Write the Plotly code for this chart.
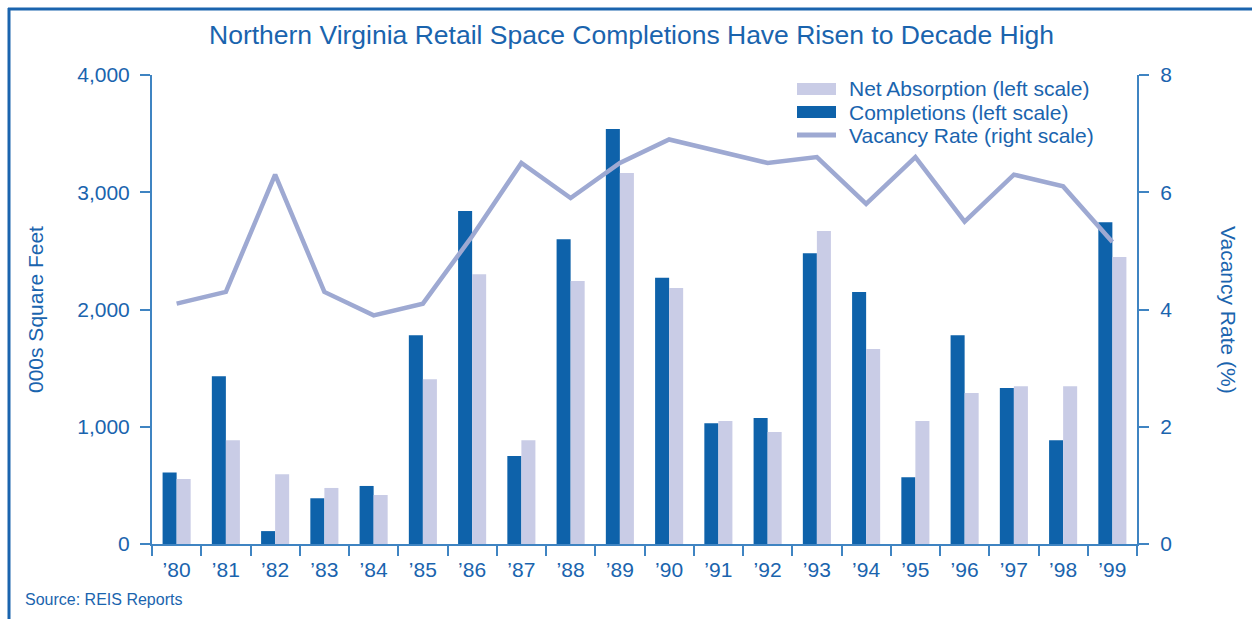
import plotly.graph_objects as go

years = ["’80", "’81", "’82", "’83", "’84", "’85", "’86", "’87", "’88", "’89",
         "’90", "’91", "’92", "’93", "’94", "’95", "’96", "’97", "’98", "’99"]
completions = [610, 1430, 110, 390, 495, 1780, 2840, 750, 2600, 3540,
               2270, 1030, 1075, 2480, 2150, 570, 1780, 1330, 885, 2745]
absorption = [555, 885, 595, 478, 418, 1405, 2300, 885, 2243, 3165,
              2183, 1048, 955, 2670, 1663, 1048, 1288, 1345, 1345, 2448]
vacancy = [4.1, 4.3, 6.3, 4.3, 3.9, 4.1, 5.25, 6.5, 5.9, 6.5,
           6.9, 6.7, 6.5, 6.6, 5.8, 6.6, 5.5, 6.3, 6.1, 5.15]
left_ticks = [0, 1000, 2000, 3000, 4000]
right_ticks = [0, 2, 4, 6, 8]

TXT = "#1a64ae"
AX = "#3f84c2"
C_COMP = "#0e62aa"
C_ABS = "#c9cce6"
C_VAC = "#9ea9d2"
FONT = "Liberation Sans, Arial, sans-serif"

fig = go.Figure()
fig.add_trace(go.Bar(x=years, y=completions, name="Completions (left scale)",
                     marker=dict(color=C_COMP, line=dict(width=0))))
fig.add_trace(go.Bar(x=years, y=absorption, name="Net Absorption (left scale)",
                     marker=dict(color=C_ABS, line=dict(width=0))))
fig.add_trace(go.Scatter(x=years, y=vacancy, name="Vacancy Rate (right scale)",
                         mode="lines", line=dict(color=C_VAC, width=4.5),
                         yaxis="y2"))

L, R, T, B = 152, 1137, 75, 544
W, H = R - L, B - T

def px(x):
    return (x - L) / W

def py(y):
    return (B - y) / H

legend_items = [
    ("Net Absorption (left scale)", "rect", C_ABS, 89),
    ("Completions (left scale)", "rect", C_COMP, 112),
    ("Vacancy Rate (right scale)", "line", C_VAC, 135),
]
shapes = [
    dict(type="line", xref="paper", yref="paper", x0=px(8), x1=px(1260),
         y0=py(9), y1=py(9), line=dict(color=TXT, width=3)),
    dict(type="line", xref="paper", yref="paper", x0=px(9), x1=px(9),
         y0=py(8), y1=py(625), line=dict(color=TXT, width=3)),
]
annotations = [
    dict(text="000s Square Feet", xref="paper", yref="paper", x=px(35), y=py(310),
         textangle=-90, showarrow=False, font=dict(size=21, color=TXT),
         xanchor="center", yanchor="middle"),
    dict(text="Vacancy Rate (%)", xref="paper", yref="paper", x=px(1229), y=py(310),
         textangle=90, showarrow=False, font=dict(size=21, color=TXT),
         xanchor="center", yanchor="middle"),
    dict(text="Source: REIS Reports", xref="paper", yref="paper", x=px(23), y=py(599),
         showarrow=False, font=dict(size=16, color=TXT),
         xanchor="left", yanchor="middle"),
]
for label, kind, color, yc in legend_items:
    if kind == "rect":
        shapes.append(dict(type="rect", xref="paper", yref="paper",
                           x0=px(797), x1=px(836), y0=py(yc - 6), y1=py(yc + 6),
                           fillcolor=color, line=dict(width=0)))
    else:
        shapes.append(dict(type="line", xref="paper", yref="paper",
                           x0=px(797), x1=px(836), y0=py(yc), y1=py(yc),
                           line=dict(color=color, width=5)))
    annotations.append(dict(text=label, xref="paper", yref="paper", x=px(847), y=py(yc),
                            showarrow=False, font=dict(size=21, color=TXT),
                            xanchor="left", yanchor="middle"))

fig.update_layout(
    width=1252, height=619,
    margin=dict(l=L, r=1252 - R, t=T, b=619 - B, pad=0),
    paper_bgcolor="white", plot_bgcolor="white",
    font=dict(family=FONT, color=TXT, size=21),
    barmode="group", bargap=0.43, bargroupgap=0,
    showlegend=False,
    title=dict(text="Northern Virginia Retail Space Completions Have Risen to Decade High",
               x=631.5 / 1252, xanchor="center", y=1 - 35 / 619, yanchor="middle",
               font=dict(size=26.5, color=TXT)),
    xaxis=dict(type="category", tickson="boundaries", ticks="outside", ticklen=10,
               tickwidth=2, tickcolor=AX, showline=True, linecolor=AX, linewidth=2,
               showgrid=False, tickfont=dict(size=21, color=TXT),
               ticklabelstandoff=6, range=[-0.5, 19.5]),
    yaxis=dict(range=[0, 4000], tickvals=left_ticks, tickformat=",", ticks="outside",
               ticklen=10, tickwidth=2, tickcolor=AX, showline=True, linecolor=AX,
               linewidth=2, showgrid=False, zeroline=False, ticklabelstandoff=6,
               tickfont=dict(size=21, color=TXT)),
    yaxis2=dict(range=[0, 8], tickvals=right_ticks, overlaying="y", side="right",
                ticks="outside", ticklen=10, tickwidth=2, tickcolor=AX, showline=True,
                linecolor=AX, linewidth=2, showgrid=False, zeroline=False,
                ticklabelstandoff=7, tickfont=dict(size=21, color=TXT)),
    shapes=shapes,
    annotations=annotations,
)

fig.write_html("out.html", config={"displayModeBar": False},
               post_script="document.body.style.margin='0px';document.body.style.padding='0px';")
